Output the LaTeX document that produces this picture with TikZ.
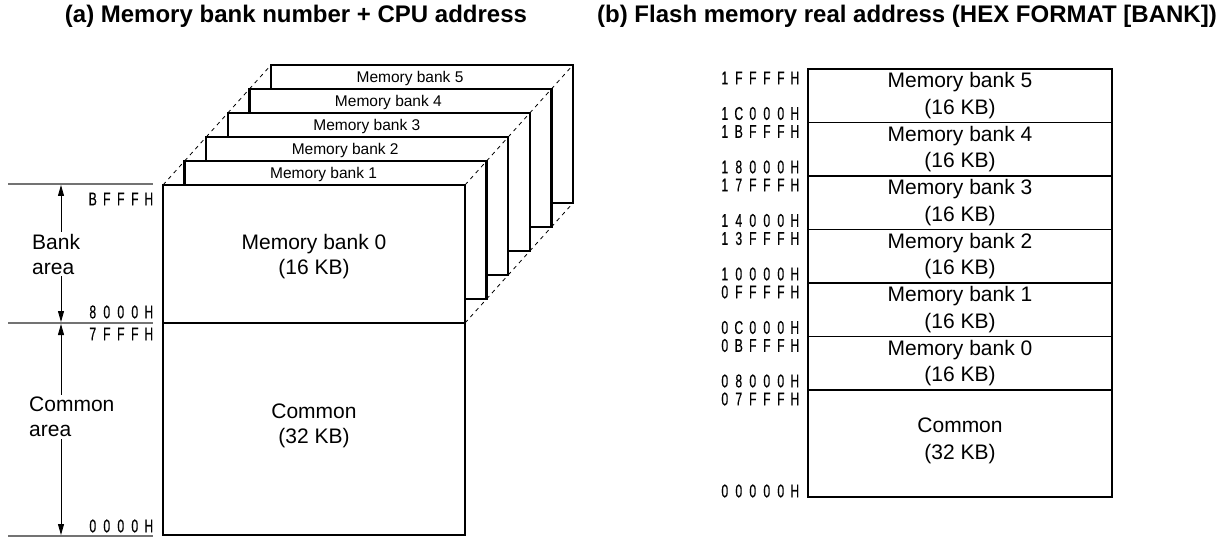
\documentclass[tikz,border=0pt]{standalone}
\usepackage{fontspec}
\setmainfont{Liberation Sans}
\newfontfamily\hexfont[FakeStretch=0.66,FakeBold=0.35]{Liberation Sans}
\usetikzlibrary{arrows.meta,positioning}
% spaced hex digits, one fixed cell per character
\newcommand\hexnum[1]{\hexfont\expandafter\hexloop#1\relax}
\def\hexloop#1{\ifx#1\relax\else\makebox[14pt]{#1}\expandafter\hexloop\fi}

\begin{document}
\begin{tikzpicture}[x=1pt, y=-1pt,
  every node/.style={font=\fontsize{21}{25}\selectfont},
  outline/.style={line width=2.4pt},
  divider/.style={line width=1.1pt},
  guide/.style={black!55, line width=1.1pt},
  linkline/.style={dash pattern=on 4pt off 4pt, line width=0.8pt},
  hexlbl/.style={font=\fontsize{18.5}{18.5}\selectfont, anchor=east, inner sep=0pt},
  banklbl/.style={font=\fontsize{15.5}{15.5}\selectfont, inner sep=1pt},
  rowtxt/.style={align=center, font=\fontsize{21}{26.5}\selectfont},
  areatxt/.style={align=left, anchor=west, inner sep=2pt},
  dimarrow/.style={-{Triangle[length=11pt,width=6pt]}, line width=0.9pt},
  titletxt/.style={font=\fontsize{24}{24}\selectfont\bfseries, anchor=base}]
  \useasboundingbox (0,0) rectangle (1220,537);

  % titles
  \node[titletxt] (ttla) at (296,23) {(a) Memory bank number + CPU address};
  \node[titletxt] (ttlb) at (907,23) {(b) Flash memory real address (HEX FORMAT [BANK])};

  % (a) stacked banks, back to front
  \foreach \i in {5,...,1} {
    \pgfmathsetmacro\bx{163+21.6*\i}
    \pgfmathsetmacro\by{185-24*\i}
    \pgfmathsetmacro\px{163+21.6*(\i-1)}
    \pgfmathsetmacro\py{185-24*(\i-1)}
    \draw[outline, fill=white] (\bx,\by) rectangle ++(302,138);
    \node[banklbl] (bank\i) at (\bx+139,\by+13) {Memory bank \i};
    \draw[linkline] (\px,\py) -- (\bx,\by);
    \draw[linkline] (\px+302,\py) -- (\bx+302,\by);
    \draw[linkline] (\px+302,\py+138) -- (\bx+302,\by+138);
  }
  \draw[outline, fill=white] (163,185) rectangle (465,535);
  \draw[divider] (163,323) -- (465,323);
  \node[rowtxt, font=\fontsize{21}{25}\selectfont] (bank0) at (314,257) {Memory bank 0\\(16 KB)};
  \node[rowtxt, font=\fontsize{21}{25}\selectfont] (common0) at (314,426) {Common\\(32 KB)};

  % (a) address scale
  \draw[guide] (8,184) -- (153,184);
  \draw[guide] (8,323) -- (153,323);
  \draw[guide] (8,536) -- (153,536);
  \node[hexlbl] (hexbfff) at (156,199) {\hexnum{BFFFH}};
  \node[hexlbl] (hex8000) at (156,312) {\hexnum{8000H}};
  \node[hexlbl] (hex7fff) at (156,334) {\hexnum{7FFFH}};
  \node[hexlbl] (hex0000) at (156,526) {\hexnum{0000H}};
  \node[areatxt] (bankarea) at (30,254) {Bank\\area};
  \node[areatxt] (commonarea) at (27,417) {Common\\area};
  \coordinate (bktop) at (61,185);
  \coordinate (bkbot) at (61,322);
  \coordinate (cmtop) at (61,324);
  \coordinate (cmbot) at (61,535);
  \draw[dimarrow] (bankarea.north -| bktop) -- (bktop);
  \draw[dimarrow] (bankarea.south -| bkbot) -- (bkbot);
  \draw[dimarrow] (commonarea.north -| cmtop) -- (cmtop);
  \draw[dimarrow] (commonarea.south -| cmbot) -- (cmbot);

  % (b) flat flash map
  \draw[outline] (808,69) rectangle (1112,497);
  \foreach \k in {1,...,6}
    \draw[divider] (808,69+53.5*\k) -- (1112,69+53.5*\k);
  \foreach \i in {0,...,5}
    \node[rowtxt] (row\i) at (960,{69+53.5*(5-\i)+26.75}) {Memory bank \i\\(16 KB)};
  \node[rowtxt] (rowcommon) at (960,441) {Common\\(32 KB)};
  \foreach \hi/\lo [count=\k from 0] in {1FFFFH/1C000H, 1BFFFH/18000H, 17FFFH/14000H,
      13FFFH/10000H, 0FFFFH/0C000H, 0BFFFH/08000H} {
    \node[hexlbl] (hi\k) at (802,{69+53.5*\k+9}) {\hexnum{\hi}};
    \node[hexlbl] (lo\k) at (802,{69+53.5*\k+44.5}) {\hexnum{\lo}};
  }
  \node[hexlbl] (hi6) at (802,399) {\hexnum{07FFFH}};
  \node[hexlbl] (lo6) at (802,491) {\hexnum{00000H}};
\end{tikzpicture}
\end{document}
